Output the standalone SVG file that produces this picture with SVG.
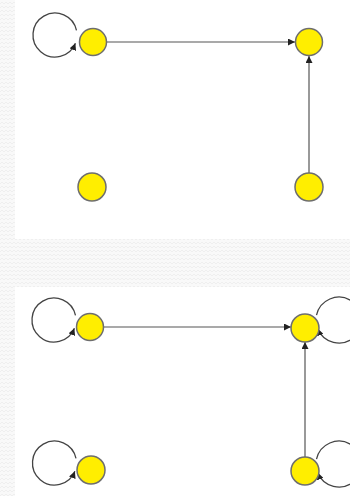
<svg xmlns="http://www.w3.org/2000/svg" width="350" height="496" viewBox="0 0 350 496">
<defs>
<pattern id="tex" width="8" height="8" patternUnits="userSpaceOnUse">
<rect width="8" height="8" fill="#f9f9f9"/>
<path d="M0 4 L2 2 L4 4 L6 2 L8 4 M0 8 L2 6 L4 8 L6 6 L8 8" stroke="#efefef" stroke-width="1" fill="none"/>
</pattern>
<marker id="arr" viewBox="0 0 10 10" refX="10" refY="5" markerWidth="7" markerHeight="7" orient="auto" markerUnits="userSpaceOnUse">
<path d="M0 0 L10 5 L0 10 Z" fill="#222"/>
</marker>
<style>
.node{fill:#ffee00;stroke:#6e6e6e;stroke-width:1.5}
.edge{stroke:#555;stroke-width:1.2;fill:none}
.loop{stroke:#444;stroke-width:1.3;fill:none}
</style>
</defs>
<rect width="350" height="496" fill="url(#tex)"/>
<rect x="15" y="0" width="335" height="239" fill="#fff"/>
<rect x="15" y="287" width="335" height="209" fill="#fff"/>
<g id="connectors">
<path class="loop" d="M76.5 30.4 A22 22 0 1 0 75.4 43.2" marker-end="url(#arr)"/>
<line class="edge" x1="107" y1="42" x2="295" y2="42" marker-end="url(#arr)"/>
<line class="edge" x1="309" y1="173" x2="309" y2="56" marker-end="url(#arr)"/>
<path class="loop" d="M75.5 315.4 A22 22 0 1 0 74.4 328.2" marker-end="url(#arr)"/>
<line class="edge" x1="104" y1="327" x2="291" y2="327" marker-end="url(#arr)"/>
<line class="edge" x1="305" y1="457" x2="305" y2="342" marker-end="url(#arr)"/>
<path class="loop" d="M316.5 315.2 A23 23 0 1 1 317.6 328.6" marker-end="url(#arr)"/>
<path class="loop" d="M76 458.4 A22 22 0 1 0 74.9 471.2" marker-end="url(#arr)"/>
<path class="loop" d="M316.5 459.2 A23 23 0 1 1 317.6 472.6" marker-end="url(#arr)"/>
</g>
<g id="n1"><circle class="node" cx="93" cy="42" r="13.5"/></g>
<g id="n2"><circle class="node" cx="309" cy="42" r="13.5"/></g>
<g id="n3"><circle class="node" cx="92" cy="187" r="14"/></g>
<g id="n4"><circle class="node" cx="309" cy="187" r="14"/></g>
<g id="n5"><circle class="node" cx="90" cy="327" r="13.5"/></g>
<g id="n6"><circle class="node" cx="305" cy="328" r="14"/></g>
<g id="n7"><circle class="node" cx="91" cy="470" r="14"/></g>
<g id="n8"><circle class="node" cx="305" cy="471" r="14"/></g>
</svg>
